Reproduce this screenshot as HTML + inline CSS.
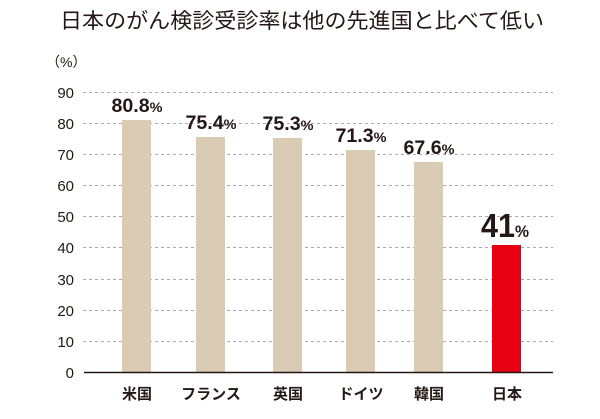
<!DOCTYPE html>
<html><head><meta charset="utf-8"><style>
body{margin:0;background:#fff;}
svg text{font-family:"Liberation Sans","Noto Sans CJK JP",sans-serif;}
</style></head><body>
<svg width="600" height="414" xmlns="http://www.w3.org/2000/svg">
<text x="302" y="28" font-size="21" text-anchor="middle" fill="#231815" textLength="484" lengthAdjust="spacingAndGlyphs">日本のがん検診受診率は他の先進国と比べて低い</text>
<text x="46" y="67" font-size="14" fill="#231815">（%）</text>
<g stroke="#aaa" stroke-width="1" stroke-dasharray="3,3">
<line x1="83" x2="553" y1="92.5" y2="92.5"/><line x1="83" x2="553" y1="123.5" y2="123.5"/>
<line x1="83" x2="553" y1="154.5" y2="154.5"/><line x1="83" x2="553" y1="185.5" y2="185.5"/>
<line x1="83" x2="553" y1="216.5" y2="216.5"/><line x1="83" x2="553" y1="247.5" y2="247.5"/>
<line x1="83" x2="553" y1="279.5" y2="279.5"/><line x1="83" x2="553" y1="310.5" y2="310.5"/>
<line x1="83" x2="553" y1="341.5" y2="341.5"/>
</g>
<g font-size="15" fill="#231815" text-anchor="end">
<text x="74" y="98">90</text><text x="74" y="129">80</text><text x="74" y="160">70</text>
<text x="74" y="191">60</text><text x="74" y="222">50</text><text x="74" y="253">40</text>
<text x="74" y="285">30</text><text x="74" y="316">20</text><text x="74" y="347">10</text>
<text x="74" y="378">0</text>
</g>
<g fill="#dacbb5">
<rect x="122" y="120" width="29" height="252"/>
<rect x="196" y="137" width="29" height="235"/>
<rect x="273" y="138" width="29" height="234"/>
<rect x="346" y="150" width="29" height="222"/>
<rect x="414" y="162" width="29" height="210"/>
</g>
<rect x="492" y="245" width="29" height="127" fill="#e60012"/>
<line x1="84" x2="553" y1="372.5" y2="372.5" stroke="#231815" stroke-width="1.5"/>
<g font-size="19" font-weight="bold" fill="#231815" text-anchor="middle">
<text x="137" y="112" textLength="51" lengthAdjust="spacingAndGlyphs">80.8<tspan font-size="14">%</tspan></text>
<text x="211" y="129" textLength="51" lengthAdjust="spacingAndGlyphs">75.4<tspan font-size="14">%</tspan></text>
<text x="288" y="130" textLength="51" lengthAdjust="spacingAndGlyphs">75.3<tspan font-size="14">%</tspan></text>
<text x="361" y="142" textLength="51" lengthAdjust="spacingAndGlyphs">71.3<tspan font-size="14">%</tspan></text>
<text x="429" y="154" textLength="51" lengthAdjust="spacingAndGlyphs">67.6<tspan font-size="14">%</tspan></text>
<text x="505" y="237" font-size="33" textLength="48" lengthAdjust="spacingAndGlyphs">41<tspan font-size="17">%</tspan></text>
</g>
<g font-size="15" font-weight="bold" fill="#231815" text-anchor="middle">
<text x="137" y="399">米国</text><text x="211" y="399">フランス</text>
<text x="288" y="399">英国</text><text x="361" y="399">ドイツ</text>
<text x="429" y="399">韓国</text><text x="507" y="399">日本</text>
</g>
</svg>
</body></html>
